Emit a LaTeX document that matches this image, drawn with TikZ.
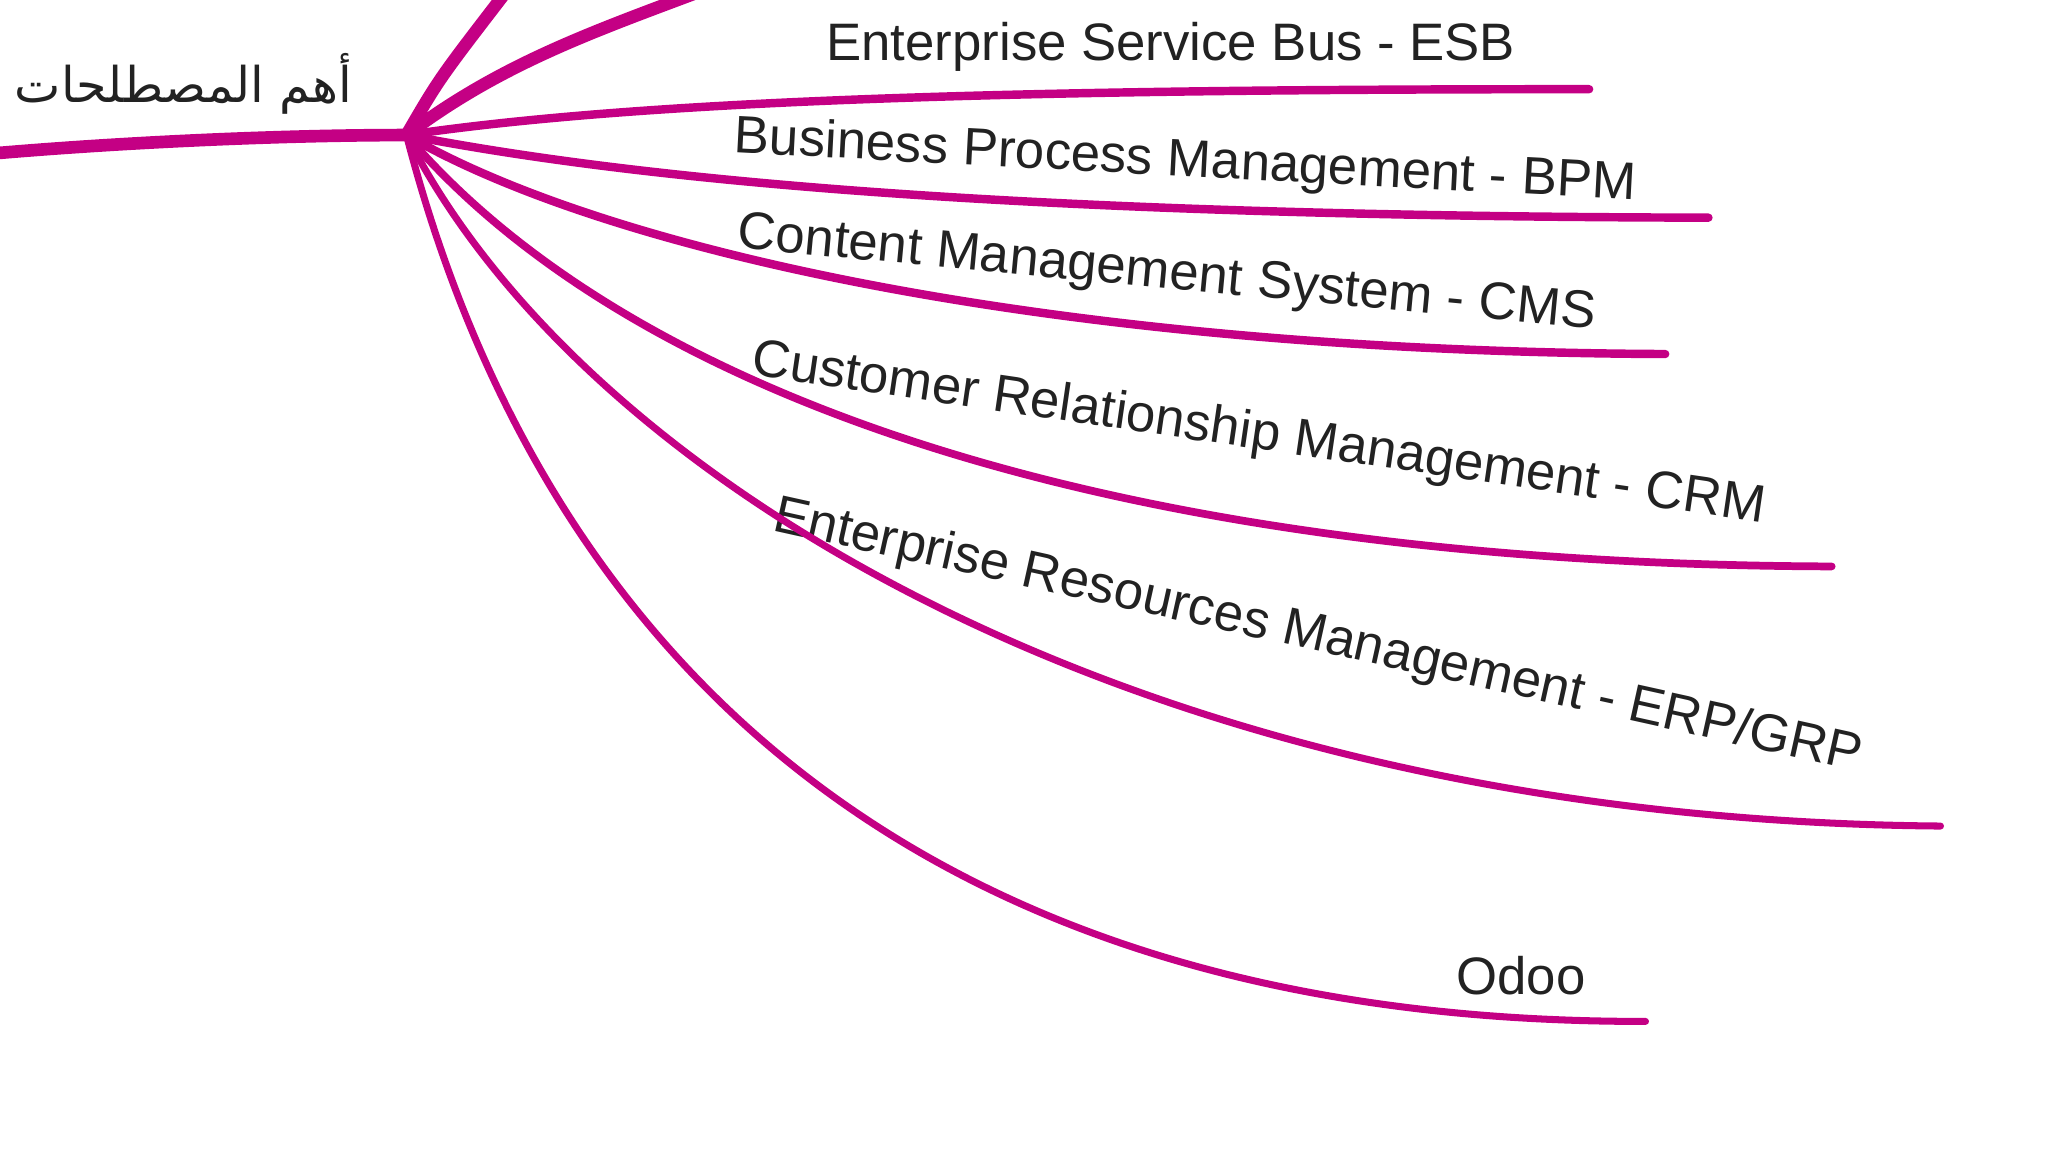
\documentclass[tikz,border=0pt]{standalone}
\usepackage{fontspec}
\setmainfont{Liberation Sans}
\newfontfamily\arabfont[Script=Arabic]{DejaVu Sans}
\definecolor{branch}{RGB}{196,0,132}
\definecolor{ink}{RGB}{34,34,34}
\tikzset{term/.style={text=ink,font=\fontsize{15}{18}\selectfont,inner sep=0pt},
	branch line/.style={draw=branch,line width=1.6pt,line cap=round},
	trunk line/.style={draw=branch,line width=3.6pt,line cap=round}}

\begin{document}
\begin{tikzpicture}[x=0.01311cm,y=-0.01311cm]
	\useasboundingbox (0,0) rectangle (1562,879);
	\coordinate (hub) at (310,103);
	\coordinate (L) at (-5,117);
	\coordinate (T1) at (385,-5);
	\coordinate (T2) at (530,-5);
	\coordinate (esbE) at (1212,68);
	\coordinate (bpmE) at (1303,166);
	\coordinate (cmsE) at (1270,270);
	\coordinate (crmE) at (1397,432);
	\coordinate (erpE) at (1480,630);
	\coordinate (odooE) at (1255,779);

	\node[text=ink,inner sep=0pt,font=\arabfont\fontsize{14}{18}\selectfont] (title) at (140,64) {المصطلحات أهم};
	\node[term] (esb) at (893,36) {Enterprise Service Bus - ESB};
	\node[term,rotate=-3] (bpm) at (904,124) {Business Process Management - BPM};
	\node[term,rotate=-5.4] (cms) at (890,210) {Content Management System - CMS};
	\node[term,rotate=-8.3] (crm) at (960,332) {Customer Relationship Management - CRM};
	\node[term,rotate=-12.5] (erp) at (1005,486) {Enterprise Resources Management - ERP/GRP};
	\node[term] (odoo) at (1160,744) {Odoo};

	\draw[trunk line] (L) .. controls (100,108) and (220,103) .. (hub);
	\draw[trunk line] (hub) .. controls (335,60) .. (T1);
	\draw[trunk line] (hub) .. controls (380,50) and (450,25) .. (T2);
	\draw[branch line,line width=2.4pt] (hub) .. controls (500,75) and (800,68) .. (esbE);
	\draw[branch line,line width=2.4pt] (hub) .. controls (500,140) and (800,165) .. (bpmE);
	\draw[branch line,line width=2.4pt] (hub) .. controls (460,190) and (800,268) .. (cmsE);
	\draw[branch line,line width=2.2pt] (hub) .. controls (470,290) and (820,430) .. (crmE);
	\draw[branch line,line width=2pt] (hub) .. controls (440,360) and (860,625) .. (erpE);
	\draw[branch line,line width=2pt] (hub) .. controls (400,450) and (650,780) .. (odooE);
\end{tikzpicture}
\end{document}
